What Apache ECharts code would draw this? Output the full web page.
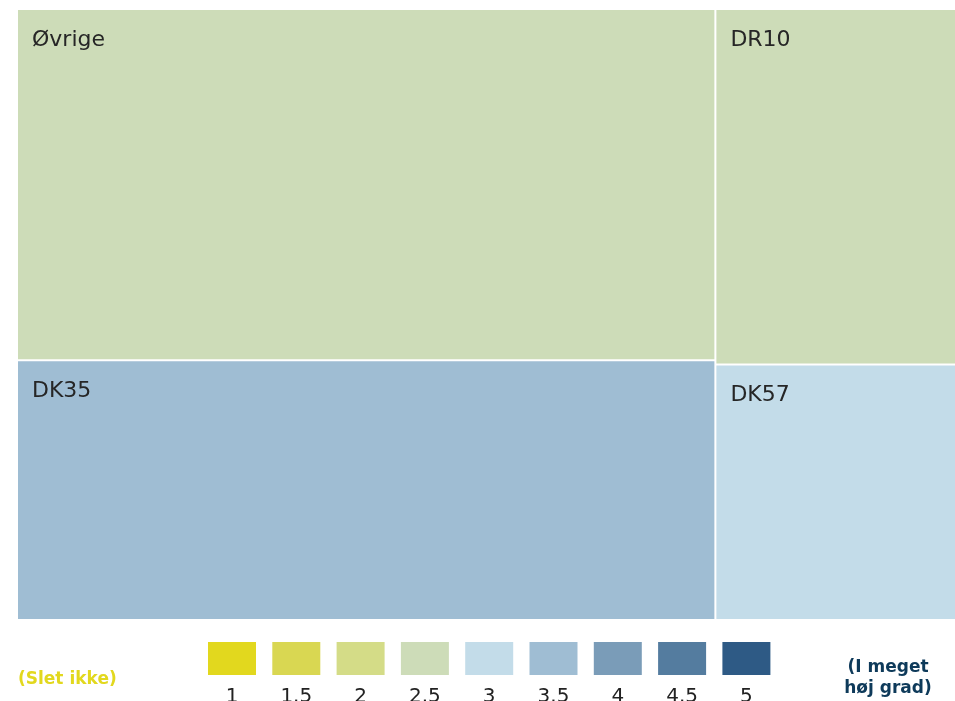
<!DOCTYPE html>
<html>
<head>
<meta charset="utf-8">
<script src="https://cdn.jsdelivr.net/npm/echarts@6/dist/echarts.min.js"></script>
<style>
  html, body { margin: 0; padding: 0; background: #fff; }
  #chart { width: 955px; height: 701px; }
</style>
</head>
<body>
<div id="chart"></div>
<script>
// treemap nodes
const names = ['Øvrige', 'DK35', 'DR10', 'DK57']
const shares = [42.7, 31.6, 14.9, 10.7]
const scores = [2.5, 3.5, 2.5, 3]

// colour scale
const pieceValues = [1, 1.5, 2, 2.5, 3, 3.5, 4, 4.5, 5]
const pieceLabels = ['1', '1.5', '2', '2.5', '3', '3.5', '4', '4.5', '5']
const pieceColors = ['#e2d81e', '#d9d752', '#d4dc87', '#cddcb8', '#c3dce9', '#9fbdd3', '#7a9cb8', '#547c9f', '#2e5a85']

const font = 'DejaVu Sans'
const legendLeft = 208
const legendTop = 642
const itemW = 48
const itemH = 33
const itemGap = 16.3

function colorFor(score) {
  const i = pieceValues.indexOf(score)
  return pieceColors[i]
}

const chart = echarts.init(document.getElementById('chart'))

let graphics = pieceLabels.map((txt, i) => ({
  type: 'text',
  x: legendLeft + i * (itemW + itemGap) + itemW / 2,
  y: 687,
  style: {
    text: txt,
    fill: '#222',
    font: '20px "' + font + '"',
    textAlign: 'center'
  }
}))

graphics.push({
  type: 'text',
  x: 18,
  y: 671,
  style: {
    text: '(Slet ikke)',
    fill: '#e2d81e',
    font: 'bold 17px "' + font + '"'
  }
})
graphics.push({
  type: 'text',
  x: 888,
  y: 657,
  style: {
    text: '(I meget\nhøj grad)',
    fill: '#0e3a5a',
    font: 'bold 17px "' + font + '"',
    textAlign: 'center',
    lineHeight: 21
  }
})

const option = {
  animation: false,
  visualMap: {
    type: 'piecewise',
    seriesIndex: [],
    orient: 'horizontal',
    left: legendLeft,
    top: legendTop,
    padding: 0,
    itemWidth: itemW,
    itemHeight: itemH,
    itemGap: itemGap,
    itemSymbol: 'rect',
    showLabel: false,
    selectedMode: false,
    pieces: pieceValues.map((v, i) => ({ value: v, color: pieceColors[i] }))
  },
  graphic: graphics,
  series: [
    {
      type: 'treemap',
      left: 18,
      top: 10,
      right: 0,
      bottom: 82,
      roam: false,
      nodeClick: false,
      breadcrumb: { show: false },
      itemStyle: {
        borderWidth: 0,
        gapWidth: 2,
        borderColor: '#fff'
      },
      label: {
        show: true,
        position: [9, 14],
        color: '#262626',
        fontFamily: font,
        fontSize: 22,
        formatter: '{b}'
      },
      data: names.map((n, i) => ({
        name: n,
        value: shares[i],
        itemStyle: { color: colorFor(scores[i]) }
      }))
    }
  ]
}

chart.setOption(option)
</script>
</body>
</html>
